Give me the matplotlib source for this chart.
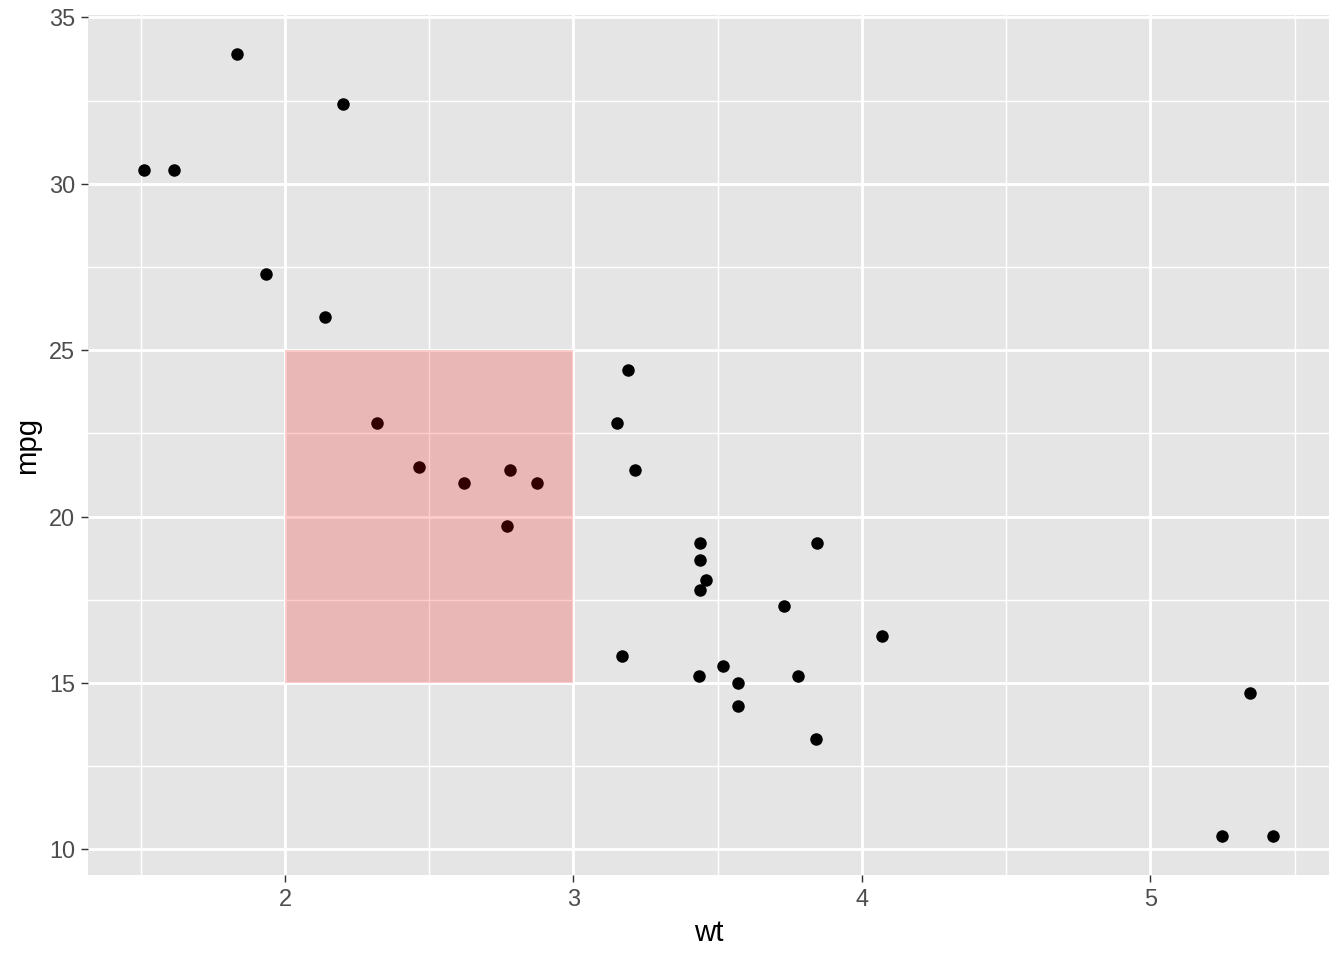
import matplotlib
matplotlib.use("Agg")
import matplotlib.pyplot as plt
from matplotlib.patches import Rectangle

# mtcars: weight (1000 lbs) and miles per gallon
wt = [2.620, 2.875, 2.320, 3.215, 3.440, 3.460, 3.570, 3.190, 3.150, 3.440,
      3.440, 4.070, 3.730, 3.780, 5.250, 5.424, 5.345, 2.200, 1.615, 1.835,
      2.465, 3.520, 3.435, 3.840, 3.845, 1.935, 2.140, 1.513, 3.170, 2.770,
      3.570, 2.780]
mpg = [21.0, 21.0, 22.8, 21.4, 18.7, 18.1, 14.3, 24.4, 22.8, 19.2,
       17.8, 16.4, 17.3, 15.2, 10.4, 10.4, 14.7, 32.4, 30.4, 33.9,
       21.5, 15.5, 15.2, 13.3, 19.2, 27.3, 26.0, 30.4, 15.8, 19.7,
       15.0, 21.4]

# highlighted region
rect_x = [2, 3]
rect_y = [15, 25]

x_ticks = [2, 3, 4, 5]
y_ticks = [10, 15, 20, 25, 30, 35]
x_minor = [1.5, 2.5, 3.5, 4.5, 5.5]
y_minor = [12.5, 17.5, 22.5, 27.5, 32.5]

plt.rcParams["font.family"] = ["Liberation Sans", "DejaVu Sans"]

fig = plt.figure(figsize=(7, 5), dpi=192)
ax = fig.add_axes([0.0655, 0.0885, 0.9234, 0.896])
ax.set_facecolor("#E5E5E5")

xpad = (max(wt) - min(wt)) * 0.05
ypad = (max(mpg) - min(mpg)) * 0.05
ax.set_xlim(min(wt) - xpad, max(wt) + xpad)
ax.set_ylim(min(mpg) - ypad, max(mpg) + ypad)

ax.set_xticks(x_ticks)
ax.set_yticks(y_ticks)
ax.set_xticks(x_minor, minor=True)
ax.set_yticks(y_minor, minor=True)

ax.grid(which="major", color="white", linewidth=1.07)
ax.grid(which="minor", color="white", linewidth=0.53)
ax.set_axisbelow(True)

for s in ax.spines.values():
    s.set_visible(False)

ax.tick_params(which="major", length=2.75, width=0.53, color="#333333",
               labelsize=8.8, labelcolor="#4D4D4D", pad=2.2)
ax.tick_params(which="minor", length=0)

ax.scatter(wt, mpg, s=22, color="black", linewidths=0, zorder=3)

ax.add_patch(Rectangle((rect_x[0], rect_y[0]), rect_x[1] - rect_x[0],
                       rect_y[1] - rect_y[0], facecolor="red", alpha=0.2,
                       edgecolor="none", zorder=4))

ax.set_xlabel("wt", fontsize=11, labelpad=2.75)
ax.set_ylabel("mpg", fontsize=11, labelpad=2.75)

fig.savefig("out.png", dpi=192)
